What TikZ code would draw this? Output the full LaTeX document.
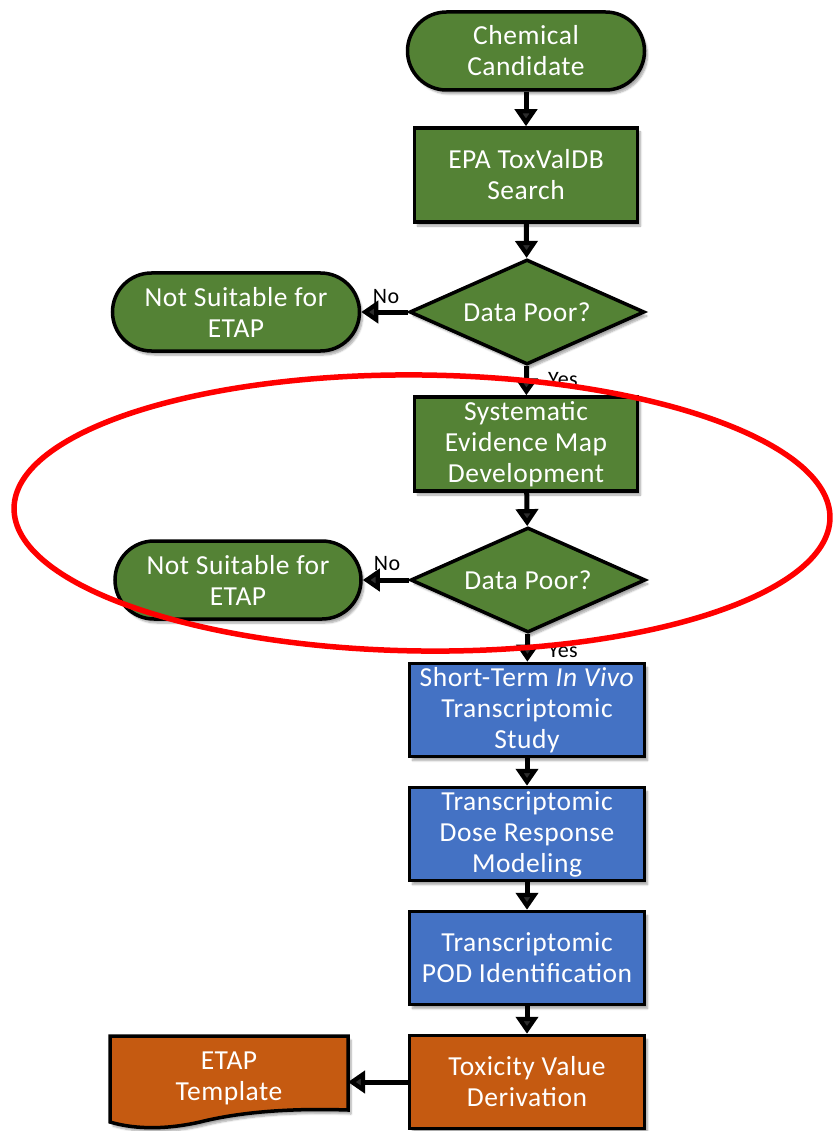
\documentclass[tikz,border=0pt]{standalone}
\usepackage{fontspec}
\setmainfont{Carlito}[LetterSpace=2]
\usetikzlibrary{shapes.geometric,arrows.meta,shadows.blur}
\definecolor{fgreen}{HTML}{548235}
\definecolor{fblue}{HTML}{4472C4}
\definecolor{forange}{HTML}{C55A11}
\definecolor{fred}{HTML}{FF0000}
\tikzset{
  base/.style={draw=black, line width=3.5pt, text=white, align=center,
    font=\fontsize{27.5}{31}\selectfont, inner sep=0pt,
    blur shadow={shadow xshift=3pt, shadow yshift=-4pt, shadow blur steps=6, shadow opacity=35}},
  term/.style={base, fill=fgreen, rectangle, rounded corners=39pt, minimum width=237pt, minimum height=78pt},
  gbox/.style={base, fill=fgreen, rectangle, minimum width=223pt, minimum height=94pt},
  bbox/.style={base, fill=fblue, rectangle, minimum width=235pt, minimum height=93pt},
  obox/.style={base, fill=forange, rectangle, minimum width=235pt, minimum height=93pt},
  dec/.style={base, fill=fgreen, diamond, aspect=2.2, minimum width=235pt, minimum height=105pt},
  conn/.style={line width=5pt, -{Triangle[width=22pt,length=17pt]}},
  lab/.style={font=\fontsize{22}{24}\selectfont, text=black, inner sep=0pt}
}
\begin{document}
\begin{tikzpicture}[x=1pt,y=-1pt]
\useasboundingbox (0,0) rectangle (833,1131);
\node[term] (cc) at (526,51) {Chemical\\Candidate};
\node[gbox] (epa) at (526,175) {EPA ToxValDB\\Search};
\node[dec] (d1) at (527,312) {Data Poor?};
\node[term, minimum width=247pt] (ns1) at (236,312) {Not Suitable for\\ETAP};
\node[gbox] (sem) at (526,444) {Systematic\\Evidence Map\\Development};
\node[dec] (d2) at (528,580) {Data Poor?};
\node[term, minimum width=246pt] (ns2) at (238,580) {Not Suitable for\\ETAP};
\node[bbox] (st) at (527,710) {Short-Term \textit{In Vivo}\\Transcriptomic\\Study};
\node[bbox] (tdr) at (527,834) {Transcriptomic\\Dose Response\\Modeling};
\node[bbox] (pod) at (527,958) {Transcriptomic\\POD Identification};
\node[obox] (tvd) at (527,1082) {Toxicity Value\\Derivation};
% document shape
\path[draw=black, line width=3.5pt, fill=forange,
    blur shadow={shadow xshift=3pt, shadow yshift=-4pt, shadow blur steps=6, shadow opacity=35}]
  (110,1036) -- (348,1036) -- (348,1110)
  .. controls (290,1108) and (240,1112) .. (200,1122)
  .. controls (160,1131) and (130,1128) .. (110,1122) -- cycle;
\node[text=white, align=center, font=\fontsize{27.5}{31}\selectfont, inner sep=0pt] (etap) at (229,1078) {ETAP\\Template};
\coordinate (etr) at (348,1082);
% connectors
\draw[conn] (cc) -- (epa);
\draw[conn] (epa) -- (d1);
\draw[conn] (d1.west) -- (ns1.east);
\draw[conn] (d1) -- (sem);
\draw[conn] (sem) -- (d2);
\draw[conn] (d2.west) -- (ns2.east);
\draw[conn] (d2) -- (st);
\draw[conn] (st) -- (tdr);
\draw[conn] (tdr) -- (pod);
\draw[conn] (pod) -- (tvd);
\draw[conn] (tvd.west) -- (etr);
% labels
\node[lab] (no1) at (386,297) {No};
\node[lab] (no2) at (387,564) {No};
\node[lab] (y1) at (563,380) {Yes};
\node[lab] (y2) at (563,651) {Yes};
% red ellipse
\draw[fred, line width=5.5pt, rotate around={-0.7:(422,513)}] (422,513) ellipse [x radius=408, y radius=138];
\end{tikzpicture}
\end{document}
